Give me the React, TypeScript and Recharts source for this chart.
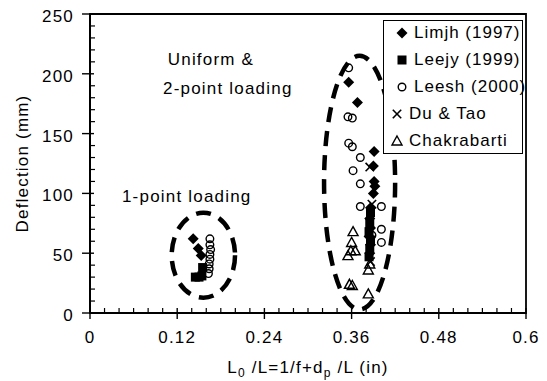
import React from 'react';
import { ScatterChart, Scatter, XAxis, YAxis, ReferenceArea, ReferenceDot, Legend } from 'recharts';

const FONT = '"Liberation Sans", Arial, Helvetica, sans-serif';

// ticks
const xMajorTicks = [0, 0.12, 0.24, 0.36, 0.48, 0.6];
const xTickLabels = ['0', '0.12', '0.24', '0.36', '0.48', '0.6'];
const xAllTicks = [0, 0.02, 0.04, 0.06, 0.08, 0.1, 0.12, 0.14, 0.16, 0.18, 0.2, 0.22, 0.24, 0.26, 0.28, 0.3, 0.32, 0.34, 0.36, 0.38, 0.4, 0.42, 0.44, 0.46, 0.48, 0.5, 0.52, 0.54, 0.56, 0.58, 0.6];
const yMajorTicks = [0, 50, 100, 150, 200, 250];
const yTickLabels = ['0', '50', '100', '150', '200', '250'];
const yAllTicks = [0, 10, 20, 30, 40, 50, 60, 70, 80, 90, 100, 110, 120, 130, 140, 150, 160, 170, 180, 190, 200, 210, 220, 230, 240, 250];

// series data (x = Lo/L, y = deflection mm)
const limjh = [
  { x: 0.142, y: 62 }, { x: 0.149, y: 54 }, { x: 0.153, y: 48 },
  { x: 0.356, y: 193 }, { x: 0.368, y: 176 }, { x: 0.391, y: 135 }, { x: 0.39, y: 123 },
  { x: 0.391, y: 110 }, { x: 0.392, y: 106 }, { x: 0.39, y: 100 }, { x: 0.386, y: 88 },
  { x: 0.385, y: 79 }, { x: 0.386, y: 71 }, { x: 0.384, y: 64 }, { x: 0.386, y: 57 }, { x: 0.385, y: 50 },
];
const leejy = [
  { x: 0.145, y: 30 }, { x: 0.15, y: 30 }, { x: 0.154, y: 31 }, { x: 0.155, y: 38 },
  { x: 0.385, y: 75 }, { x: 0.384, y: 68 }, { x: 0.386, y: 61 }, { x: 0.385, y: 54 },
  { x: 0.384, y: 47 }, { x: 0.386, y: 84 },
];
const leesh = [
  { x: 0.165, y: 62 }, { x: 0.165, y: 57 }, { x: 0.166, y: 53 }, { x: 0.165, y: 49 },
  { x: 0.165, y: 45 }, { x: 0.164, y: 41 }, { x: 0.164, y: 37 }, { x: 0.163, y: 33 },
  { x: 0.356, y: 205 }, { x: 0.355, y: 164 }, { x: 0.361, y: 163 }, { x: 0.356, y: 142 },
  { x: 0.361, y: 139 }, { x: 0.372, y: 130 }, { x: 0.362, y: 119 }, { x: 0.372, y: 108 },
  { x: 0.372, y: 89 }, { x: 0.401, y: 89 }, { x: 0.386, y: 82 }, { x: 0.401, y: 70 },
  { x: 0.401, y: 59 }, { x: 0.388, y: 65 },
];
const duTao = [
  { x: 0.385, y: 122 }, { x: 0.388, y: 91 }, { x: 0.386, y: 60 }, { x: 0.386, y: 43 },
];
const chakrabarti = [
  { x: 0.362, y: 68 }, { x: 0.36, y: 59 }, { x: 0.359, y: 52 }, { x: 0.365, y: 52 },
  { x: 0.355, y: 48 }, { x: 0.383, y: 36 }, { x: 0.385, y: 41 }, { x: 0.357, y: 24 },
  { x: 0.361, y: 23 }, { x: 0.383, y: 16 },
];

// dashed ellipses around groups (data units: centre and half-extents)
const ellipses = [
  { cx: 0.156, cy: 48.3, rx: 0.0436, ry: 35.5 },
  { cx: 0.371, cy: 109, rx: 0.0489, ry: 106 },
];

const annotations = [
  { x: 0.107, y: 212, text: 'Uniform &' },
  { x: 0.1005, y: 188, text: '2-point loading' },
  { x: 0.044, y: 98, text: '1-point loading' },
];

const isMajor = (list: number[], v: number) => list.findIndex((m) => Math.abs(m - v) < 1e-9);

const DiamondShape = (p: any) => {
  const { cx, cy } = p;
  const s = 5.5;
  return <polygon points={`${cx},${cy - s} ${cx + s},${cy} ${cx},${cy + s} ${cx - s},${cy}`} fill="#000" />;
};
const SquareShape = (p: any) => <rect x={p.cx - 4.5} y={p.cy - 4.5} width={9} height={9} fill="#000" />;
const CircleShape = (p: any) => <circle cx={p.cx} cy={p.cy} r={3.8} fill="none" stroke="#000" strokeWidth={1.4} />;
const XShape = (p: any) => {
  const { cx, cy } = p;
  const s = 4.2;
  return (
    <g stroke="#000" strokeWidth={1.6}>
      <line x1={cx - s} y1={cy - s} x2={cx + s} y2={cy + s} />
      <line x1={cx - s} y1={cy + s} x2={cx + s} y2={cy - s} />
    </g>
  );
};
const TriShape = (p: any) => {
  const { cx, cy } = p;
  return <polygon points={`${cx},${cy - 5} ${cx + 5},${cy + 4} ${cx - 5},${cy + 4}`} fill="none" stroke="#000" strokeWidth={1.4} />;
};

const seriesDefs = [
  { name: 'Limjh (1997)', data: limjh, shape: DiamondShape, dx: 0 },
  { name: 'Leejy (1999)', data: leejy, shape: SquareShape, dx: 0 },
  { name: 'Leesh (2000)', data: leesh, shape: CircleShape, dx: 0 },
  { name: 'Du & Tao', data: duTao, shape: XShape, dx: -5 },
  { name: 'Chakrabarti', data: chakrabarti, shape: TriShape, dx: -5 },
];

const XTick = (props: any) => {
  const { x, y, payload } = props;
  const idx = isMajor(xMajorTicks, payload.value);
  if (idx < 0) return <line x1={x} x2={x} y1={y - 5} y2={y} stroke="#000" strokeWidth={1.2} />;
  return (
    <g>
      <line x1={x} x2={x} y1={y - 5} y2={y + 6} stroke="#000" strokeWidth={1.4} />
      <text x={x} y={y + 30} textAnchor="middle" fontSize={17} letterSpacing={1.2} fontFamily={FONT} fill="#000">
        {xTickLabels[idx]}
      </text>
    </g>
  );
};

const YTick = (props: any) => {
  const { x, y, payload } = props;
  const idx = isMajor(yMajorTicks, payload.value);
  if (idx < 0) return <line x1={x} x2={x + 5} y1={y} y2={y} stroke="#000" strokeWidth={1.2} />;
  return (
    <g>
      <line x1={x - 8} x2={x + 4} y1={y} y2={y} stroke="#000" strokeWidth={1.4} />
      <text x={x - 16} y={y + 8} textAnchor="end" fontSize={17} letterSpacing={1.2} fontFamily={FONT} fill="#000">
        {yTickLabels[idx]}
      </text>
    </g>
  );
};

const XTitle = (props: any) => {
  const vb = props.viewBox || { x: 82, y: 305, width: 436, height: 68 };
  const cx = vb.x + vb.width / 2;
  return (
    <text x={cx} y={vb.y + 60} textAnchor="middle" fontSize={17} letterSpacing={1.2} fontFamily={FONT} fill="#000">
      <tspan>L</tspan>
      <tspan fontSize={12} dy={4}>0</tspan>
      <tspan dy={-4}>{' /L=1/f+d'}</tspan>
      <tspan fontSize={12} dy={4}>p</tspan>
      <tspan dy={-4}>{' /L (in)'}</tspan>
    </text>
  );
};

const YTitle = (props: any) => {
  const vb = props.viewBox || { x: 0, y: 6, width: 82, height: 299 };
  const x = vb.x + 14;
  const y = vb.y + vb.height / 2;
  return (
    <text x={x} y={y} transform={`rotate(-90, ${x}, ${y})`} textAnchor="middle" dominantBaseline="central" fontSize={17} letterSpacing={1.2} fontFamily={FONT} fill="#000">
      Deflection (mm)
    </text>
  );
};

const EllipseShape = (p: any) => {
  const { x, y, width, height } = p;
  return (
    <ellipse cx={x + width / 2} cy={y + height / 2} rx={Math.abs(width) / 2} ry={Math.abs(height) / 2}
      fill="none" stroke="#000" strokeWidth={4.5} strokeDasharray="15 9" />
  );
};

const LegendBox = () => (
  <div style={{ width: 140, height: 134, boxSizing: 'border-box', border: '1.5px solid #000', background: '#fff', position: 'relative', fontFamily: FONT }}>
    {seriesDefs.map((s, i) => {
      const rowY = 12 + 27 * i;
      const Shape = s.shape;
      return (
        <div key={s.name}>
          <svg width={14} height={14} style={{ position: 'absolute', left: 11 + s.dx, top: rowY - 7 }}>
            <Shape cx={7} cy={7} />
          </svg>
          <span style={{ position: 'absolute', left: 30 + s.dx, top: rowY - 10, fontSize: 17, lineHeight: '20px', letterSpacing: 1, whiteSpace: 'nowrap', color: '#000' }}>
            {s.name}
          </span>
        </div>
      );
    })}
  </div>
);

export default function App() {
  return (
    <div style={{ width: 539, height: 373 }}>
      <ScatterChart width={539} height={373} margin={{ top: 6, right: 21, left: 0, bottom: 0 }}>
        <XAxis type="number" dataKey="x" domain={[0, 0.6]} ticks={xAllTicks} interval={0}
          tick={<XTick />} tickLine={false} tickSize={0} tickMargin={0} height={68}
          axisLine={{ stroke: '#000', strokeWidth: 2 }} allowDataOverflow label={XTitle} />
        <YAxis type="number" dataKey="y" domain={[0, 250]} ticks={yAllTicks} interval={0}
          tick={<YTick />} tickLine={false} tickSize={0} tickMargin={0} width={82}
          axisLine={{ stroke: '#000', strokeWidth: 2 }} allowDataOverflow label={YTitle} />
        <ReferenceArea x1={0} x2={0.6} y1={0} y2={250} fill="none" stroke="#000" strokeWidth={1.8} fillOpacity={0} />
        {ellipses.map((e, i) => (
          <ReferenceArea key={'e' + i} x1={e.cx - e.rx} x2={e.cx + e.rx} y1={e.cy - e.ry} y2={e.cy + e.ry}
            shape={EllipseShape} ifOverflow="visible" />
        ))}
        {annotations.map((a, i) => (
          <ReferenceDot key={'a' + i} x={a.x} y={a.y} r={0}
            shape={(p: any) => (
              <text x={p.cx} y={p.cy + 6} textAnchor="start" fontSize={17} letterSpacing={1.2} fontFamily={FONT} fill="#000">{a.text}</text>
            )} />
        ))}
        {seriesDefs.map((s) => (
          <Scatter key={s.name} name={s.name} data={s.data} shape={s.shape} isAnimationActive={false} />
        ))}
        <Legend layout="horizontal" verticalAlign="middle" align="center"
          wrapperStyle={{ left: 375, top: 12, width: 140, height: 134 }} content={LegendBox} />
      </ScatterChart>
    </div>
  );
}
